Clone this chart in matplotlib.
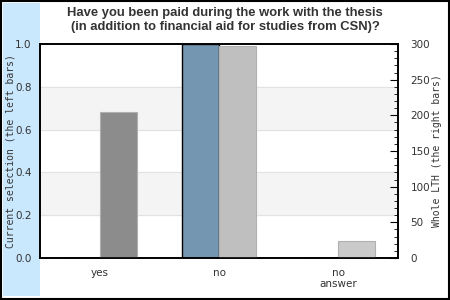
import numpy as np
import matplotlib.pyplot as plt
from matplotlib.patches import Rectangle
from matplotlib.ticker import MultipleLocator

categories = ["yes", "no", "no\nanswer"]
current = [0.0, 1.0, 0.0]          # left bars, left axis
whole_lth = [205, 297, 24]         # right bars, right axis
right_colors = ["#8c8c8c", "#bfbfbf", "#cacaca"]

title = "Have you been paid during the work with the thesis\n(in addition to financial aid for studies from CSN)?"

fig = plt.figure(figsize=(4.5, 3), dpi=100)
fig.patch.set_facecolor("white")

# frame and blue strip
fig.add_artist(Rectangle((0.003, 0.003), 0.994, 0.994, transform=fig.transFigure,
                         fill=False, edgecolor="black", linewidth=1.5))
fig.add_artist(Rectangle((3 / 450, 4 / 300), 37 / 450, 293 / 300, transform=fig.transFigure,
                         facecolor="#c9e7fd", edgecolor="none", zorder=0))

ax = fig.add_axes([40 / 450, 42 / 300, 358 / 450, 214 / 300])
ax2 = ax.twinx()

x = np.arange(len(categories))
w = 0.31

# background bands
for lo, hi in [(0.2, 0.4), (0.6, 0.8)]:
    ax.axhspan(lo, hi, color="#f4f4f4", zorder=0)
for y in [0.2, 0.4, 0.6, 0.8]:
    ax.axhline(y, color="#e2e2e2", linewidth=0.8, zorder=0.5)

ax.bar(x - w / 2, current, width=w, color="#7596b0", edgecolor="black", linewidth=1, zorder=2)
ax2.bar(x + w / 2, whole_lth, width=w, color=right_colors, edgecolor="#b0b0b0", linewidth=0.8, zorder=2)

ax.set_xlim(-0.5, 2.5)
ax.set_ylim(0, 1.0)
ax2.set_ylim(0, 300)

ax.set_xticks(x)
ax.set_xticklabels(categories, color="#333333", fontsize=7.5)
ax.tick_params(axis="x", length=0, pad=7)
ax.set_yticks([0, 0.2, 0.4, 0.6, 0.8, 1.0])
ax.tick_params(axis="y", length=0, pad=6, labelsize=7.5, labelcolor="#333333")

ax2.yaxis.set_major_locator(MultipleLocator(50))
ax2.yaxis.set_minor_locator(MultipleLocator(10))
ax2.tick_params(axis="y", which="major", direction="in", length=6, pad=9,
                labelsize=7.5, labelcolor="#333333")
ax2.tick_params(axis="y", which="minor", direction="in", length=3)

for a in (ax, ax2):
    for s in a.spines.values():
        s.set_linewidth(1.2)
ax.set_facecolor("white")

ax.set_ylabel("Current selection (the left bars)", family="DejaVu Sans Mono",
              fontsize=7, color="#333333")
ax.yaxis.set_label_coords(-24 / 358, 0.5)
ax2.set_ylabel("Whole LTH (the right bars)", family="DejaVu Sans Mono",
               fontsize=7, color="#333333")
ax2.yaxis.set_label_coords(392 / 358, 0.5)

fig.text(0.5, 0.933, title, ha="center", va="center", fontsize=9.4, fontweight="bold",
         family="Liberation Sans", color="#333333", linespacing=1.3)

plt.savefig("out.png", dpi=100)
plt.close("all")
